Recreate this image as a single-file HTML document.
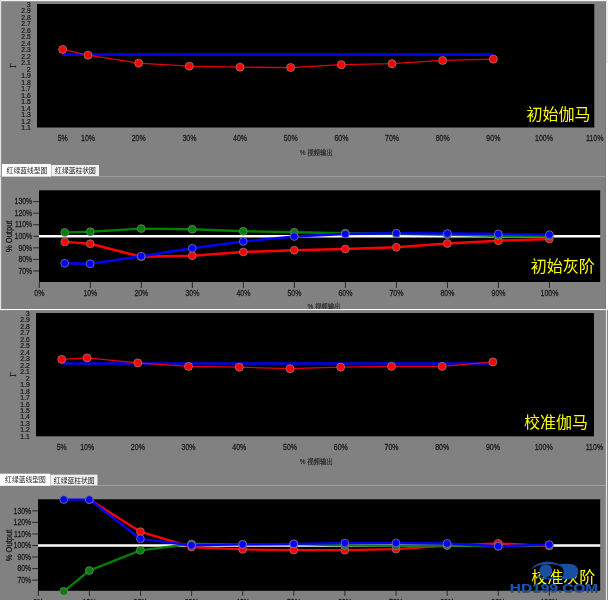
<!DOCTYPE html>
<html lang="zh">
<head>
<meta charset="utf-8">
<title>灰阶与伽马校准</title>
<style>
html,body{margin:0;padding:0;background:#818181;}
body{width:608px;height:600px;overflow:hidden;}
svg{display:block;font-family:"Liberation Sans", "Noto Sans CJK SC", sans-serif;}
</style>
</head>
<body>
<svg width="608" height="600" viewBox="0 0 608 600">
<defs><filter id="soft" filterUnits="userSpaceOnUse" x="-12" y="-12" width="632" height="624" color-interpolation-filters="sRGB"><feGaussianBlur stdDeviation="0.4"/></filter></defs>
<g filter="url(#soft)">
<rect x="-12" y="-12" width="632" height="624" fill="#818181"/>
<rect x="-12" y="-12" width="632" height="12" fill="#f4f4f4"/>
<rect x="-12" y="0" width="12" height="309" fill="#e0e0e0"/>
<rect x="-12" y="309" width="12" height="1.3" fill="#ffffff"/>
<rect x="608" y="-12" width="12" height="73.7" fill="#eeeeee"/>
<rect x="608" y="61.7" width="12" height="248.6" fill="#ffffff"/>
<rect x="608" y="310.3" width="12" height="301.7" fill="#8c8c8c"/>
<rect x="0" y="0" width="608" height="1.2" fill="#f4f4f4"/>
<rect x="0" y="0" width="1.2" height="309" fill="#e0e0e0"/>
<rect x="606" y="0" width="2" height="61.7" fill="#eeeeee"/>
<rect x="606" y="61.7" width="2" height="248" fill="#ffffff"/>
<rect x="605.1" y="1.2" width="0.9" height="307.8" fill="#797979"/>
<rect x="37" y="4" width="557.3" height="123.5" fill="#000"/>
<text transform="translate(30.80 6.90) scale(0.896 1)" font-size="7.9" text-anchor="end" fill="#1c1c1c" stroke="#1c1c1c" stroke-width="0.24" >3</text>
<text transform="translate(30.80 13.38) scale(0.861 1)" font-size="7.9" text-anchor="end" fill="#1c1c1c" stroke="#1c1c1c" stroke-width="0.24" >2.9</text>
<text transform="translate(30.80 19.87) scale(0.861 1)" font-size="7.9" text-anchor="end" fill="#1c1c1c" stroke="#1c1c1c" stroke-width="0.24" >2.8</text>
<text transform="translate(30.80 26.35) scale(0.861 1)" font-size="7.9" text-anchor="end" fill="#1c1c1c" stroke="#1c1c1c" stroke-width="0.24" >2.7</text>
<text transform="translate(30.80 32.84) scale(0.861 1)" font-size="7.9" text-anchor="end" fill="#1c1c1c" stroke="#1c1c1c" stroke-width="0.24" >2.6</text>
<text transform="translate(30.80 39.32) scale(0.861 1)" font-size="7.9" text-anchor="end" fill="#1c1c1c" stroke="#1c1c1c" stroke-width="0.24" >2.5</text>
<text transform="translate(30.80 45.81) scale(0.861 1)" font-size="7.9" text-anchor="end" fill="#1c1c1c" stroke="#1c1c1c" stroke-width="0.24" >2.4</text>
<text transform="translate(30.80 52.29) scale(0.861 1)" font-size="7.9" text-anchor="end" fill="#1c1c1c" stroke="#1c1c1c" stroke-width="0.24" >2.3</text>
<text transform="translate(30.80 58.77) scale(0.861 1)" font-size="7.9" text-anchor="end" fill="#1c1c1c" stroke="#1c1c1c" stroke-width="0.24" >2.2</text>
<text transform="translate(30.80 65.26) scale(0.861 1)" font-size="7.9" text-anchor="end" fill="#1c1c1c" stroke="#1c1c1c" stroke-width="0.24" >2.1</text>
<text transform="translate(30.80 71.74) scale(0.896 1)" font-size="7.9" text-anchor="end" fill="#1c1c1c" stroke="#1c1c1c" stroke-width="0.24" >2</text>
<text transform="translate(30.80 78.23) scale(0.861 1)" font-size="7.9" text-anchor="end" fill="#1c1c1c" stroke="#1c1c1c" stroke-width="0.24" >1.9</text>
<text transform="translate(30.80 84.71) scale(0.861 1)" font-size="7.9" text-anchor="end" fill="#1c1c1c" stroke="#1c1c1c" stroke-width="0.24" >1.8</text>
<text transform="translate(30.80 91.19) scale(0.861 1)" font-size="7.9" text-anchor="end" fill="#1c1c1c" stroke="#1c1c1c" stroke-width="0.24" >1.7</text>
<text transform="translate(30.80 97.68) scale(0.861 1)" font-size="7.9" text-anchor="end" fill="#1c1c1c" stroke="#1c1c1c" stroke-width="0.24" >1.6</text>
<text transform="translate(30.80 104.16) scale(0.861 1)" font-size="7.9" text-anchor="end" fill="#1c1c1c" stroke="#1c1c1c" stroke-width="0.24" >1.5</text>
<text transform="translate(30.80 110.65) scale(0.861 1)" font-size="7.9" text-anchor="end" fill="#1c1c1c" stroke="#1c1c1c" stroke-width="0.24" >1.4</text>
<text transform="translate(30.80 117.13) scale(0.861 1)" font-size="7.9" text-anchor="end" fill="#1c1c1c" stroke="#1c1c1c" stroke-width="0.24" >1.3</text>
<text transform="translate(30.80 123.62) scale(0.861 1)" font-size="7.9" text-anchor="end" fill="#1c1c1c" stroke="#1c1c1c" stroke-width="0.24" >1.2</text>
<text transform="translate(30.80 130.10) scale(0.861 1)" font-size="7.9" text-anchor="end" fill="#1c1c1c" stroke="#1c1c1c" stroke-width="0.24" >1.1</text>
<text transform="translate(62.73 140.80) scale(0.799 1)" font-size="8.7" text-anchor="middle" fill="#1c1c1c" stroke="#1c1c1c" stroke-width="0.28" >5%</text>
<text transform="translate(88.06 140.80) scale(0.806 1)" font-size="8.7" text-anchor="middle" fill="#1c1c1c" stroke="#1c1c1c" stroke-width="0.28" >10%</text>
<text transform="translate(138.73 140.80) scale(0.806 1)" font-size="8.7" text-anchor="middle" fill="#1c1c1c" stroke="#1c1c1c" stroke-width="0.28" >20%</text>
<text transform="translate(189.39 140.80) scale(0.806 1)" font-size="8.7" text-anchor="middle" fill="#1c1c1c" stroke="#1c1c1c" stroke-width="0.28" >30%</text>
<text transform="translate(240.05 140.80) scale(0.806 1)" font-size="8.7" text-anchor="middle" fill="#1c1c1c" stroke="#1c1c1c" stroke-width="0.28" >40%</text>
<text transform="translate(290.72 140.80) scale(0.806 1)" font-size="8.7" text-anchor="middle" fill="#1c1c1c" stroke="#1c1c1c" stroke-width="0.28" >50%</text>
<text transform="translate(341.38 140.80) scale(0.806 1)" font-size="8.7" text-anchor="middle" fill="#1c1c1c" stroke="#1c1c1c" stroke-width="0.28" >60%</text>
<text transform="translate(392.05 140.80) scale(0.806 1)" font-size="8.7" text-anchor="middle" fill="#1c1c1c" stroke="#1c1c1c" stroke-width="0.28" >70%</text>
<text transform="translate(442.71 140.80) scale(0.806 1)" font-size="8.7" text-anchor="middle" fill="#1c1c1c" stroke="#1c1c1c" stroke-width="0.28" >80%</text>
<text transform="translate(493.37 140.80) scale(0.806 1)" font-size="8.7" text-anchor="middle" fill="#1c1c1c" stroke="#1c1c1c" stroke-width="0.28" >90%</text>
<text transform="translate(544.04 140.80) scale(0.810 1)" font-size="8.7" text-anchor="middle" fill="#1c1c1c" stroke="#1c1c1c" stroke-width="0.28" >100%</text>
<text transform="translate(594.70 140.80) scale(0.810 1)" font-size="8.7" text-anchor="middle" fill="#1c1c1c" stroke="#1c1c1c" stroke-width="0.28" >110%</text>
<text x="316.20" y="154.80" font-size="6.4" text-anchor="middle" fill="#222222" stroke="#222222" stroke-width="0.12" >% 视频输出</text>
<text transform="translate(15.6,65.5) rotate(-90)" font-size="7.5" font-family="Liberation Serif, serif" text-anchor="middle" fill="#1c1c1c" stroke="#1c1c1c" stroke-width="0.2">Γ</text>
<line x1="62.33" y1="54.6" x2="492.97" y2="54.6" stroke="#0000f0" stroke-width="2.6"/>
<polyline points="62.68,49.45 88.01,55.15 138.68,63.15 189.34,66.15 240.00,67.15 290.67,67.55 341.33,64.65 392.00,63.65 442.66,60.45 493.32,59.15" fill="none" stroke="#e80000" stroke-width="1.3" stroke-linejoin="round" stroke-linecap="round"/>
<circle cx="62.68" cy="49.45" r="4.0" fill="#ff0000" stroke="#8a8080" stroke-width="0.8"/><circle cx="88.01" cy="55.15" r="4.0" fill="#ff0000" stroke="#8a8080" stroke-width="0.8"/><circle cx="138.68" cy="63.15" r="4.0" fill="#ff0000" stroke="#8a8080" stroke-width="0.8"/><circle cx="189.34" cy="66.15" r="4.0" fill="#ff0000" stroke="#8a8080" stroke-width="0.8"/><circle cx="240.00" cy="67.15" r="4.0" fill="#ff0000" stroke="#8a8080" stroke-width="0.8"/><circle cx="290.67" cy="67.55" r="4.0" fill="#ff0000" stroke="#8a8080" stroke-width="0.8"/><circle cx="341.33" cy="64.65" r="4.0" fill="#ff0000" stroke="#8a8080" stroke-width="0.8"/><circle cx="392.00" cy="63.65" r="4.0" fill="#ff0000" stroke="#8a8080" stroke-width="0.8"/><circle cx="442.66" cy="60.45" r="4.0" fill="#ff0000" stroke="#8a8080" stroke-width="0.8"/><circle cx="493.32" cy="59.15" r="4.0" fill="#ff0000" stroke="#8a8080" stroke-width="0.8"/>
<text x="526.6" y="120.2" font-size="16" fill="#ffff00" text-anchor="start">初始伽马</text>
<rect x="-12" y="176.2" width="617" height="0.85" fill="#a4a4a4"/>
<rect x="2" y="164" width="49" height="12.5" fill="#ffffff"/>
<rect x="51" y="165" width="48" height="11" fill="#f0f0f0"/>
<rect x="51" y="165" width="0.8" height="11" fill="#c0c0c0"/>
<text x="27.00" y="172.70" font-size="6.8" text-anchor="middle" fill="#1c1c1c" stroke="#1c1c1c" stroke-width="0" >红绿蓝线型图</text>
<text x="75.50" y="173.00" font-size="6.8" text-anchor="middle" fill="#1c1c1c" stroke="#1c1c1c" stroke-width="0" >红绿蓝柱状图</text>
<rect x="39" y="190.3" width="561.2" height="91.69999999999999" fill="#000"/>
<line x1="33.2" y1="201.65" x2="39" y2="201.65" stroke="#262626" stroke-width="1"/>
<text transform="translate(32.20 204.35) scale(0.794 1)" font-size="8.7" text-anchor="end" fill="#1c1c1c" stroke="#1c1c1c" stroke-width="0.28" >130%</text>
<line x1="33.2" y1="213.20" x2="39" y2="213.20" stroke="#262626" stroke-width="1"/>
<text transform="translate(32.20 215.90) scale(0.794 1)" font-size="8.7" text-anchor="end" fill="#1c1c1c" stroke="#1c1c1c" stroke-width="0.28" >120%</text>
<line x1="33.2" y1="224.75" x2="39" y2="224.75" stroke="#262626" stroke-width="1"/>
<text transform="translate(32.20 227.45) scale(0.794 1)" font-size="8.7" text-anchor="end" fill="#1c1c1c" stroke="#1c1c1c" stroke-width="0.28" >110%</text>
<line x1="33.2" y1="236.30" x2="39" y2="236.30" stroke="#262626" stroke-width="1"/>
<text transform="translate(32.20 239.00) scale(0.794 1)" font-size="8.7" text-anchor="end" fill="#1c1c1c" stroke="#1c1c1c" stroke-width="0.28" >100%</text>
<line x1="33.2" y1="247.85" x2="39" y2="247.85" stroke="#262626" stroke-width="1"/>
<text transform="translate(32.20 250.55) scale(0.790 1)" font-size="8.7" text-anchor="end" fill="#1c1c1c" stroke="#1c1c1c" stroke-width="0.28" >90%</text>
<line x1="33.2" y1="259.40" x2="39" y2="259.40" stroke="#262626" stroke-width="1"/>
<text transform="translate(32.20 262.10) scale(0.790 1)" font-size="8.7" text-anchor="end" fill="#1c1c1c" stroke="#1c1c1c" stroke-width="0.28" >80%</text>
<line x1="33.2" y1="270.95" x2="39" y2="270.95" stroke="#262626" stroke-width="1"/>
<text transform="translate(32.20 273.65) scale(0.790 1)" font-size="8.7" text-anchor="end" fill="#1c1c1c" stroke="#1c1c1c" stroke-width="0.28" >70%</text>
<text transform="translate(12.4,236.3) rotate(-90)" font-size="8.2" text-anchor="middle" fill="#1c1c1c" stroke="#1c1c1c" stroke-width="0.25" textLength="31.5" lengthAdjust="spacingAndGlyphs">% Output</text>
<line x1="39.30" y1="282" x2="39.30" y2="288" stroke="#262626" stroke-width="1"/>
<text transform="translate(39.30 296.10) scale(0.793 1)" font-size="8.7" text-anchor="middle" fill="#1c1c1c" stroke="#1c1c1c" stroke-width="0.28" >0%</text>
<line x1="90.32" y1="282" x2="90.32" y2="288" stroke="#262626" stroke-width="1"/>
<text transform="translate(90.32 296.10) scale(0.800 1)" font-size="8.7" text-anchor="middle" fill="#1c1c1c" stroke="#1c1c1c" stroke-width="0.28" >10%</text>
<line x1="141.34" y1="282" x2="141.34" y2="288" stroke="#262626" stroke-width="1"/>
<text transform="translate(141.34 296.10) scale(0.800 1)" font-size="8.7" text-anchor="middle" fill="#1c1c1c" stroke="#1c1c1c" stroke-width="0.28" >20%</text>
<line x1="192.35" y1="282" x2="192.35" y2="288" stroke="#262626" stroke-width="1"/>
<text transform="translate(192.35 296.10) scale(0.800 1)" font-size="8.7" text-anchor="middle" fill="#1c1c1c" stroke="#1c1c1c" stroke-width="0.28" >30%</text>
<line x1="243.37" y1="282" x2="243.37" y2="288" stroke="#262626" stroke-width="1"/>
<text transform="translate(243.37 296.10) scale(0.800 1)" font-size="8.7" text-anchor="middle" fill="#1c1c1c" stroke="#1c1c1c" stroke-width="0.28" >40%</text>
<line x1="294.39" y1="282" x2="294.39" y2="288" stroke="#262626" stroke-width="1"/>
<text transform="translate(294.39 296.10) scale(0.800 1)" font-size="8.7" text-anchor="middle" fill="#1c1c1c" stroke="#1c1c1c" stroke-width="0.28" >50%</text>
<line x1="345.41" y1="282" x2="345.41" y2="288" stroke="#262626" stroke-width="1"/>
<text transform="translate(345.41 296.10) scale(0.800 1)" font-size="8.7" text-anchor="middle" fill="#1c1c1c" stroke="#1c1c1c" stroke-width="0.28" >60%</text>
<line x1="396.43" y1="282" x2="396.43" y2="288" stroke="#262626" stroke-width="1"/>
<text transform="translate(396.43 296.10) scale(0.800 1)" font-size="8.7" text-anchor="middle" fill="#1c1c1c" stroke="#1c1c1c" stroke-width="0.28" >70%</text>
<line x1="447.45" y1="282" x2="447.45" y2="288" stroke="#262626" stroke-width="1"/>
<text transform="translate(447.45 296.10) scale(0.800 1)" font-size="8.7" text-anchor="middle" fill="#1c1c1c" stroke="#1c1c1c" stroke-width="0.28" >80%</text>
<line x1="498.46" y1="282" x2="498.46" y2="288" stroke="#262626" stroke-width="1"/>
<text transform="translate(498.46 296.10) scale(0.800 1)" font-size="8.7" text-anchor="middle" fill="#1c1c1c" stroke="#1c1c1c" stroke-width="0.28" >90%</text>
<line x1="549.48" y1="282" x2="549.48" y2="288" stroke="#262626" stroke-width="1"/>
<text transform="translate(549.48 296.10) scale(0.805 1)" font-size="8.7" text-anchor="middle" fill="#1c1c1c" stroke="#1c1c1c" stroke-width="0.28" >100%</text>
<text x="324.00" y="309.00" font-size="6.4" text-anchor="middle" fill="#222222" stroke="#222222" stroke-width="0.12" >% 视频输出</text>
<line x1="39" y1="236.3" x2="600.2" y2="236.3" stroke="#fff" stroke-width="2.5"/>
<polyline points="64.71,241.95 90.22,243.75 141.24,256.75 192.25,255.75 243.27,252.00 294.29,250.25 345.31,249.00 396.33,247.25 447.35,243.50 498.36,240.75 549.38,239.00" fill="none" stroke="#ff0000" stroke-width="2.35" stroke-linejoin="round" stroke-linecap="round"/>
<polyline points="64.71,232.45 90.22,231.75 141.24,228.55 192.25,229.25 243.27,231.25 294.29,232.25 345.31,233.25 396.33,233.75 447.35,234.75 498.36,235.75 549.38,236.25" fill="none" stroke="#008000" stroke-width="2.35" stroke-linejoin="round" stroke-linecap="round"/>
<polyline points="64.71,263.25 90.22,263.75 141.24,256.25 192.25,248.25 243.27,241.50 294.29,236.50 345.31,234.00 396.33,233.25 447.35,233.50 498.36,234.00 549.38,234.75" fill="none" stroke="#0000ff" stroke-width="2.35" stroke-linejoin="round" stroke-linecap="round"/>
<circle cx="64.71" cy="241.95" r="3.9" fill="#ff0000" stroke="#807a80" stroke-width="0.8"/><circle cx="90.22" cy="243.75" r="3.9" fill="#ff0000" stroke="#807a80" stroke-width="0.8"/><circle cx="141.24" cy="256.75" r="3.9" fill="#ff0000" stroke="#807a80" stroke-width="0.8"/><circle cx="192.25" cy="255.75" r="3.9" fill="#ff0000" stroke="#807a80" stroke-width="0.8"/><circle cx="243.27" cy="252.00" r="3.9" fill="#ff0000" stroke="#807a80" stroke-width="0.8"/><circle cx="294.29" cy="250.25" r="3.9" fill="#ff0000" stroke="#807a80" stroke-width="0.8"/><circle cx="345.31" cy="249.00" r="3.9" fill="#ff0000" stroke="#807a80" stroke-width="0.8"/><circle cx="396.33" cy="247.25" r="3.9" fill="#ff0000" stroke="#807a80" stroke-width="0.8"/><circle cx="447.35" cy="243.50" r="3.9" fill="#ff0000" stroke="#807a80" stroke-width="0.8"/><circle cx="498.36" cy="240.75" r="3.9" fill="#ff0000" stroke="#807a80" stroke-width="0.8"/><circle cx="549.38" cy="239.00" r="3.9" fill="#ff0000" stroke="#807a80" stroke-width="0.8"/>
<circle cx="64.71" cy="232.45" r="3.9" fill="#008000" stroke="#807a80" stroke-width="0.8"/><circle cx="90.22" cy="231.75" r="3.9" fill="#008000" stroke="#807a80" stroke-width="0.8"/><circle cx="141.24" cy="228.55" r="3.9" fill="#008000" stroke="#807a80" stroke-width="0.8"/><circle cx="192.25" cy="229.25" r="3.9" fill="#008000" stroke="#807a80" stroke-width="0.8"/><circle cx="243.27" cy="231.25" r="3.9" fill="#008000" stroke="#807a80" stroke-width="0.8"/><circle cx="294.29" cy="232.25" r="3.9" fill="#008000" stroke="#807a80" stroke-width="0.8"/><circle cx="345.31" cy="233.25" r="3.9" fill="#008000" stroke="#807a80" stroke-width="0.8"/><circle cx="396.33" cy="233.75" r="3.9" fill="#008000" stroke="#807a80" stroke-width="0.8"/><circle cx="447.35" cy="234.75" r="3.9" fill="#008000" stroke="#807a80" stroke-width="0.8"/><circle cx="498.36" cy="235.75" r="3.9" fill="#008000" stroke="#807a80" stroke-width="0.8"/><circle cx="549.38" cy="236.25" r="3.9" fill="#008000" stroke="#807a80" stroke-width="0.8"/>
<circle cx="64.71" cy="263.25" r="3.9" fill="#0000ff" stroke="#807a80" stroke-width="0.8"/><circle cx="90.22" cy="263.75" r="3.9" fill="#0000ff" stroke="#807a80" stroke-width="0.8"/><circle cx="141.24" cy="256.25" r="3.9" fill="#0000ff" stroke="#807a80" stroke-width="0.8"/><circle cx="192.25" cy="248.25" r="3.9" fill="#0000ff" stroke="#807a80" stroke-width="0.8"/><circle cx="243.27" cy="241.50" r="3.9" fill="#0000ff" stroke="#807a80" stroke-width="0.8"/><circle cx="294.29" cy="236.50" r="3.9" fill="#0000ff" stroke="#807a80" stroke-width="0.8"/><circle cx="345.31" cy="234.00" r="3.9" fill="#0000ff" stroke="#807a80" stroke-width="0.8"/><circle cx="396.33" cy="233.25" r="3.9" fill="#0000ff" stroke="#807a80" stroke-width="0.8"/><circle cx="447.35" cy="233.50" r="3.9" fill="#0000ff" stroke="#807a80" stroke-width="0.8"/><circle cx="498.36" cy="234.00" r="3.9" fill="#0000ff" stroke="#807a80" stroke-width="0.8"/><circle cx="549.38" cy="234.75" r="3.9" fill="#0000ff" stroke="#807a80" stroke-width="0.8"/>
<text x="530.8" y="271.9" font-size="16" fill="#ffff00" text-anchor="start">初始灰阶</text>
<rect x="0" y="307.5" width="606" height="1.5" fill="#818181" opacity="0.0"/>
<rect x="0" y="309" width="608" height="1.3" fill="#ffffff"/>
<rect x="0" y="310.3" width="608" height="2.7" fill="#818181"/>
<rect x="605.3" y="310" width="0.6" height="290" fill="#6c6c6c"/>
<rect x="605.8" y="309.5" width="1.1" height="290.5" fill="#ffffff"/>
<rect x="606.9" y="310.3" width="1.1" height="289.7" fill="#8c8c8c"/>
<rect x="36" y="313" width="558" height="123.30000000000001" fill="#000"/>
<text transform="translate(29.80 315.90) scale(0.896 1)" font-size="7.9" text-anchor="end" fill="#1c1c1c" stroke="#1c1c1c" stroke-width="0.24" >3</text>
<text transform="translate(29.80 322.37) scale(0.861 1)" font-size="7.9" text-anchor="end" fill="#1c1c1c" stroke="#1c1c1c" stroke-width="0.24" >2.9</text>
<text transform="translate(29.80 328.85) scale(0.861 1)" font-size="7.9" text-anchor="end" fill="#1c1c1c" stroke="#1c1c1c" stroke-width="0.24" >2.8</text>
<text transform="translate(29.80 335.32) scale(0.861 1)" font-size="7.9" text-anchor="end" fill="#1c1c1c" stroke="#1c1c1c" stroke-width="0.24" >2.7</text>
<text transform="translate(29.80 341.79) scale(0.861 1)" font-size="7.9" text-anchor="end" fill="#1c1c1c" stroke="#1c1c1c" stroke-width="0.24" >2.6</text>
<text transform="translate(29.80 348.27) scale(0.861 1)" font-size="7.9" text-anchor="end" fill="#1c1c1c" stroke="#1c1c1c" stroke-width="0.24" >2.5</text>
<text transform="translate(29.80 354.74) scale(0.861 1)" font-size="7.9" text-anchor="end" fill="#1c1c1c" stroke="#1c1c1c" stroke-width="0.24" >2.4</text>
<text transform="translate(29.80 361.22) scale(0.861 1)" font-size="7.9" text-anchor="end" fill="#1c1c1c" stroke="#1c1c1c" stroke-width="0.24" >2.3</text>
<text transform="translate(29.80 367.69) scale(0.861 1)" font-size="7.9" text-anchor="end" fill="#1c1c1c" stroke="#1c1c1c" stroke-width="0.24" >2.2</text>
<text transform="translate(29.80 374.16) scale(0.861 1)" font-size="7.9" text-anchor="end" fill="#1c1c1c" stroke="#1c1c1c" stroke-width="0.24" >2.1</text>
<text transform="translate(29.80 380.64) scale(0.896 1)" font-size="7.9" text-anchor="end" fill="#1c1c1c" stroke="#1c1c1c" stroke-width="0.24" >2</text>
<text transform="translate(29.80 387.11) scale(0.861 1)" font-size="7.9" text-anchor="end" fill="#1c1c1c" stroke="#1c1c1c" stroke-width="0.24" >1.9</text>
<text transform="translate(29.80 393.58) scale(0.861 1)" font-size="7.9" text-anchor="end" fill="#1c1c1c" stroke="#1c1c1c" stroke-width="0.24" >1.8</text>
<text transform="translate(29.80 400.06) scale(0.861 1)" font-size="7.9" text-anchor="end" fill="#1c1c1c" stroke="#1c1c1c" stroke-width="0.24" >1.7</text>
<text transform="translate(29.80 406.53) scale(0.861 1)" font-size="7.9" text-anchor="end" fill="#1c1c1c" stroke="#1c1c1c" stroke-width="0.24" >1.6</text>
<text transform="translate(29.80 413.01) scale(0.861 1)" font-size="7.9" text-anchor="end" fill="#1c1c1c" stroke="#1c1c1c" stroke-width="0.24" >1.5</text>
<text transform="translate(29.80 419.48) scale(0.861 1)" font-size="7.9" text-anchor="end" fill="#1c1c1c" stroke="#1c1c1c" stroke-width="0.24" >1.4</text>
<text transform="translate(29.80 425.95) scale(0.861 1)" font-size="7.9" text-anchor="end" fill="#1c1c1c" stroke="#1c1c1c" stroke-width="0.24" >1.3</text>
<text transform="translate(29.80 432.43) scale(0.861 1)" font-size="7.9" text-anchor="end" fill="#1c1c1c" stroke="#1c1c1c" stroke-width="0.24" >1.2</text>
<text transform="translate(29.80 438.90) scale(0.861 1)" font-size="7.9" text-anchor="end" fill="#1c1c1c" stroke="#1c1c1c" stroke-width="0.24" >1.1</text>
<text transform="translate(61.76 449.60) scale(0.799 1)" font-size="8.7" text-anchor="middle" fill="#1c1c1c" stroke="#1c1c1c" stroke-width="0.28" >5%</text>
<text transform="translate(87.13 449.60) scale(0.806 1)" font-size="8.7" text-anchor="middle" fill="#1c1c1c" stroke="#1c1c1c" stroke-width="0.28" >10%</text>
<text transform="translate(137.85 449.60) scale(0.806 1)" font-size="8.7" text-anchor="middle" fill="#1c1c1c" stroke="#1c1c1c" stroke-width="0.28" >20%</text>
<text transform="translate(188.58 449.60) scale(0.806 1)" font-size="8.7" text-anchor="middle" fill="#1c1c1c" stroke="#1c1c1c" stroke-width="0.28" >30%</text>
<text transform="translate(239.31 449.60) scale(0.806 1)" font-size="8.7" text-anchor="middle" fill="#1c1c1c" stroke="#1c1c1c" stroke-width="0.28" >40%</text>
<text transform="translate(290.04 449.60) scale(0.806 1)" font-size="8.7" text-anchor="middle" fill="#1c1c1c" stroke="#1c1c1c" stroke-width="0.28" >50%</text>
<text transform="translate(340.76 449.60) scale(0.806 1)" font-size="8.7" text-anchor="middle" fill="#1c1c1c" stroke="#1c1c1c" stroke-width="0.28" >60%</text>
<text transform="translate(391.49 449.60) scale(0.806 1)" font-size="8.7" text-anchor="middle" fill="#1c1c1c" stroke="#1c1c1c" stroke-width="0.28" >70%</text>
<text transform="translate(442.22 449.60) scale(0.806 1)" font-size="8.7" text-anchor="middle" fill="#1c1c1c" stroke="#1c1c1c" stroke-width="0.28" >80%</text>
<text transform="translate(492.95 449.60) scale(0.806 1)" font-size="8.7" text-anchor="middle" fill="#1c1c1c" stroke="#1c1c1c" stroke-width="0.28" >90%</text>
<text transform="translate(543.67 449.60) scale(0.810 1)" font-size="8.7" text-anchor="middle" fill="#1c1c1c" stroke="#1c1c1c" stroke-width="0.28" >100%</text>
<text transform="translate(594.40 449.60) scale(0.810 1)" font-size="8.7" text-anchor="middle" fill="#1c1c1c" stroke="#1c1c1c" stroke-width="0.28" >110%</text>
<text x="316.20" y="463.80" font-size="6.4" text-anchor="middle" fill="#222222" stroke="#222222" stroke-width="0.12" >% 视频输出</text>
<text transform="translate(15.6,374.5) rotate(-90)" font-size="7.5" font-family="Liberation Serif, serif" text-anchor="middle" fill="#1c1c1c" stroke="#1c1c1c" stroke-width="0.2">Γ</text>
<line x1="61.36" y1="363.5" x2="492.55" y2="363.5" stroke="#0000f0" stroke-width="2.6"/>
<polyline points="61.71,359.40 87.08,357.90 137.80,362.90 188.53,366.40 239.26,367.15 289.99,368.65 340.71,367.15 391.44,366.40 442.17,366.40 492.90,361.90" fill="none" stroke="#e80000" stroke-width="1.3" stroke-linejoin="round" stroke-linecap="round"/>
<circle cx="61.71" cy="359.40" r="4.0" fill="#ff0000" stroke="#8a8080" stroke-width="0.8"/><circle cx="87.08" cy="357.90" r="4.0" fill="#ff0000" stroke="#8a8080" stroke-width="0.8"/><circle cx="137.80" cy="362.90" r="4.0" fill="#ff0000" stroke="#8a8080" stroke-width="0.8"/><circle cx="188.53" cy="366.40" r="4.0" fill="#ff0000" stroke="#8a8080" stroke-width="0.8"/><circle cx="239.26" cy="367.15" r="4.0" fill="#ff0000" stroke="#8a8080" stroke-width="0.8"/><circle cx="289.99" cy="368.65" r="4.0" fill="#ff0000" stroke="#8a8080" stroke-width="0.8"/><circle cx="340.71" cy="367.15" r="4.0" fill="#ff0000" stroke="#8a8080" stroke-width="0.8"/><circle cx="391.44" cy="366.40" r="4.0" fill="#ff0000" stroke="#8a8080" stroke-width="0.8"/><circle cx="442.17" cy="366.40" r="4.0" fill="#ff0000" stroke="#8a8080" stroke-width="0.8"/><circle cx="492.90" cy="361.90" r="4.0" fill="#ff0000" stroke="#8a8080" stroke-width="0.8"/>
<text x="524.1" y="427.7" font-size="16" fill="#ffff00" text-anchor="start">校准伽马</text>
<rect x="-12" y="485.1" width="617" height="0.85" fill="#a4a4a4"/>
<rect x="-12" y="473.7" width="62" height="12.100000000000023" fill="#ffffff"/>
<rect x="50" y="474.7" width="47.5" height="10.600000000000023" fill="#f0f0f0"/>
<rect x="50" y="474.7" width="0.8" height="10.600000000000023" fill="#c0c0c0"/>
<text x="25.50" y="482.20" font-size="6.8" text-anchor="middle" fill="#1c1c1c" stroke="#1c1c1c" stroke-width="0" >红绿蓝线型图</text>
<text x="74.25" y="482.50" font-size="6.8" text-anchor="middle" fill="#1c1c1c" stroke="#1c1c1c" stroke-width="0" >红绿蓝柱状图</text>
<rect x="38" y="499.3" width="562.2" height="91.49999999999994" fill="#000"/>
<line x1="32.2" y1="510.85" x2="38" y2="510.85" stroke="#262626" stroke-width="1"/>
<text transform="translate(31.20 513.55) scale(0.794 1)" font-size="8.7" text-anchor="end" fill="#1c1c1c" stroke="#1c1c1c" stroke-width="0.28" >130%</text>
<line x1="32.2" y1="522.40" x2="38" y2="522.40" stroke="#262626" stroke-width="1"/>
<text transform="translate(31.20 525.10) scale(0.794 1)" font-size="8.7" text-anchor="end" fill="#1c1c1c" stroke="#1c1c1c" stroke-width="0.28" >120%</text>
<line x1="32.2" y1="533.95" x2="38" y2="533.95" stroke="#262626" stroke-width="1"/>
<text transform="translate(31.20 536.65) scale(0.794 1)" font-size="8.7" text-anchor="end" fill="#1c1c1c" stroke="#1c1c1c" stroke-width="0.28" >110%</text>
<line x1="32.2" y1="545.50" x2="38" y2="545.50" stroke="#262626" stroke-width="1"/>
<text transform="translate(31.20 548.20) scale(0.794 1)" font-size="8.7" text-anchor="end" fill="#1c1c1c" stroke="#1c1c1c" stroke-width="0.28" >100%</text>
<line x1="32.2" y1="557.05" x2="38" y2="557.05" stroke="#262626" stroke-width="1"/>
<text transform="translate(31.20 559.75) scale(0.790 1)" font-size="8.7" text-anchor="end" fill="#1c1c1c" stroke="#1c1c1c" stroke-width="0.28" >90%</text>
<line x1="32.2" y1="568.60" x2="38" y2="568.60" stroke="#262626" stroke-width="1"/>
<text transform="translate(31.20 571.30) scale(0.790 1)" font-size="8.7" text-anchor="end" fill="#1c1c1c" stroke="#1c1c1c" stroke-width="0.28" >80%</text>
<line x1="32.2" y1="580.15" x2="38" y2="580.15" stroke="#262626" stroke-width="1"/>
<text transform="translate(31.20 582.85) scale(0.790 1)" font-size="8.7" text-anchor="end" fill="#1c1c1c" stroke="#1c1c1c" stroke-width="0.28" >70%</text>
<text transform="translate(12.4,545.5) rotate(-90)" font-size="8.2" text-anchor="middle" fill="#1c1c1c" stroke="#1c1c1c" stroke-width="0.25" textLength="31.5" lengthAdjust="spacingAndGlyphs">% Output</text>
<line x1="38.30" y1="590.8" x2="38.30" y2="595.8" stroke="#262626" stroke-width="1"/>
<text transform="translate(38.30 605.10) scale(0.793 1)" font-size="8.7" text-anchor="middle" fill="#1c1c1c" stroke="#1c1c1c" stroke-width="0.28" >0%</text>
<line x1="89.41" y1="590.8" x2="89.41" y2="595.8" stroke="#262626" stroke-width="1"/>
<text transform="translate(89.41 605.10) scale(0.800 1)" font-size="8.7" text-anchor="middle" fill="#1c1c1c" stroke="#1c1c1c" stroke-width="0.28" >10%</text>
<line x1="140.52" y1="590.8" x2="140.52" y2="595.8" stroke="#262626" stroke-width="1"/>
<text transform="translate(140.52 605.10) scale(0.800 1)" font-size="8.7" text-anchor="middle" fill="#1c1c1c" stroke="#1c1c1c" stroke-width="0.28" >20%</text>
<line x1="191.63" y1="590.8" x2="191.63" y2="595.8" stroke="#262626" stroke-width="1"/>
<text transform="translate(191.63 605.10) scale(0.800 1)" font-size="8.7" text-anchor="middle" fill="#1c1c1c" stroke="#1c1c1c" stroke-width="0.28" >30%</text>
<line x1="242.74" y1="590.8" x2="242.74" y2="595.8" stroke="#262626" stroke-width="1"/>
<text transform="translate(242.74 605.10) scale(0.800 1)" font-size="8.7" text-anchor="middle" fill="#1c1c1c" stroke="#1c1c1c" stroke-width="0.28" >40%</text>
<line x1="293.85" y1="590.8" x2="293.85" y2="595.8" stroke="#262626" stroke-width="1"/>
<text transform="translate(293.85 605.10) scale(0.800 1)" font-size="8.7" text-anchor="middle" fill="#1c1c1c" stroke="#1c1c1c" stroke-width="0.28" >50%</text>
<line x1="344.95" y1="590.8" x2="344.95" y2="595.8" stroke="#262626" stroke-width="1"/>
<text transform="translate(344.95 605.10) scale(0.800 1)" font-size="8.7" text-anchor="middle" fill="#1c1c1c" stroke="#1c1c1c" stroke-width="0.28" >60%</text>
<line x1="396.06" y1="590.8" x2="396.06" y2="595.8" stroke="#262626" stroke-width="1"/>
<text transform="translate(396.06 605.10) scale(0.800 1)" font-size="8.7" text-anchor="middle" fill="#1c1c1c" stroke="#1c1c1c" stroke-width="0.28" >70%</text>
<line x1="447.17" y1="590.8" x2="447.17" y2="595.8" stroke="#262626" stroke-width="1"/>
<text transform="translate(447.17 605.10) scale(0.800 1)" font-size="8.7" text-anchor="middle" fill="#1c1c1c" stroke="#1c1c1c" stroke-width="0.28" >80%</text>
<line x1="498.28" y1="590.8" x2="498.28" y2="595.8" stroke="#262626" stroke-width="1"/>
<text transform="translate(498.28 605.10) scale(0.800 1)" font-size="8.7" text-anchor="middle" fill="#1c1c1c" stroke="#1c1c1c" stroke-width="0.28" >90%</text>
<line x1="549.39" y1="590.8" x2="549.39" y2="595.8" stroke="#262626" stroke-width="1"/>
<text transform="translate(549.39 605.10) scale(0.805 1)" font-size="8.7" text-anchor="middle" fill="#1c1c1c" stroke="#1c1c1c" stroke-width="0.28" >100%</text>
<line x1="38" y1="545.5" x2="600.2" y2="545.5" stroke="#fff" stroke-width="2.5"/>
<polyline points="89.31,499.55 140.42,531.65 191.53,547.05 242.64,549.45 293.75,550.15 344.85,550.15 395.96,549.05 447.07,545.55 498.18,543.35 549.29,546.05" fill="none" stroke="#ff0000" stroke-width="2.35" stroke-linejoin="round" stroke-linecap="round"/>
<polyline points="63.75,591.35 89.31,570.55 140.42,550.35 191.53,543.95 242.64,544.45 293.75,544.05 344.85,545.35 395.96,545.85 447.07,545.35 498.18,546.25 549.29,545.05" fill="none" stroke="#008000" stroke-width="2.35" stroke-linejoin="round" stroke-linecap="round"/>
<polyline points="63.75,499.55 89.31,499.55 140.42,538.85 191.53,545.35 242.64,544.45 293.75,543.85 344.85,543.05 395.96,543.05 447.07,543.45 498.18,546.25 549.29,544.65" fill="none" stroke="#0000ff" stroke-width="2.35" stroke-linejoin="round" stroke-linecap="round"/>
<circle cx="89.31" cy="499.55" r="3.9" fill="#ff0000" stroke="#807a80" stroke-width="0.8"/><circle cx="140.42" cy="531.65" r="3.9" fill="#ff0000" stroke="#807a80" stroke-width="0.8"/><circle cx="191.53" cy="547.05" r="3.9" fill="#ff0000" stroke="#807a80" stroke-width="0.8"/><circle cx="242.64" cy="549.45" r="3.9" fill="#ff0000" stroke="#807a80" stroke-width="0.8"/><circle cx="293.75" cy="550.15" r="3.9" fill="#ff0000" stroke="#807a80" stroke-width="0.8"/><circle cx="344.85" cy="550.15" r="3.9" fill="#ff0000" stroke="#807a80" stroke-width="0.8"/><circle cx="395.96" cy="549.05" r="3.9" fill="#ff0000" stroke="#807a80" stroke-width="0.8"/><circle cx="447.07" cy="545.55" r="3.9" fill="#ff0000" stroke="#807a80" stroke-width="0.8"/><circle cx="498.18" cy="543.35" r="3.9" fill="#ff0000" stroke="#807a80" stroke-width="0.8"/><circle cx="549.29" cy="546.05" r="3.9" fill="#ff0000" stroke="#807a80" stroke-width="0.8"/>
<circle cx="63.75" cy="591.35" r="3.9" fill="#008000" stroke="#807a80" stroke-width="0.8"/><circle cx="89.31" cy="570.55" r="3.9" fill="#008000" stroke="#807a80" stroke-width="0.8"/><circle cx="140.42" cy="550.35" r="3.9" fill="#008000" stroke="#807a80" stroke-width="0.8"/><circle cx="191.53" cy="543.95" r="3.9" fill="#008000" stroke="#807a80" stroke-width="0.8"/><circle cx="242.64" cy="544.45" r="3.9" fill="#008000" stroke="#807a80" stroke-width="0.8"/><circle cx="293.75" cy="544.05" r="3.9" fill="#008000" stroke="#807a80" stroke-width="0.8"/><circle cx="344.85" cy="545.35" r="3.9" fill="#008000" stroke="#807a80" stroke-width="0.8"/><circle cx="395.96" cy="545.85" r="3.9" fill="#008000" stroke="#807a80" stroke-width="0.8"/><circle cx="447.07" cy="545.35" r="3.9" fill="#008000" stroke="#807a80" stroke-width="0.8"/><circle cx="498.18" cy="546.25" r="3.9" fill="#008000" stroke="#807a80" stroke-width="0.8"/><circle cx="549.29" cy="545.05" r="3.9" fill="#008000" stroke="#807a80" stroke-width="0.8"/>
<circle cx="63.75" cy="499.55" r="3.9" fill="#0000ff" stroke="#807a80" stroke-width="0.8"/><circle cx="89.31" cy="499.55" r="3.9" fill="#0000ff" stroke="#807a80" stroke-width="0.8"/><circle cx="140.42" cy="538.85" r="3.9" fill="#0000ff" stroke="#807a80" stroke-width="0.8"/><circle cx="191.53" cy="545.35" r="3.9" fill="#0000ff" stroke="#807a80" stroke-width="0.8"/><circle cx="242.64" cy="544.45" r="3.9" fill="#0000ff" stroke="#807a80" stroke-width="0.8"/><circle cx="293.75" cy="543.85" r="3.9" fill="#0000ff" stroke="#807a80" stroke-width="0.8"/><circle cx="344.85" cy="543.05" r="3.9" fill="#0000ff" stroke="#807a80" stroke-width="0.8"/><circle cx="395.96" cy="543.05" r="3.9" fill="#0000ff" stroke="#807a80" stroke-width="0.8"/><circle cx="447.07" cy="543.45" r="3.9" fill="#0000ff" stroke="#807a80" stroke-width="0.8"/><circle cx="498.18" cy="546.25" r="3.9" fill="#0000ff" stroke="#807a80" stroke-width="0.8"/><circle cx="549.29" cy="544.65" r="3.9" fill="#0000ff" stroke="#807a80" stroke-width="0.8"/>
<text x="531.3" y="583.0" font-size="16" fill="#ffff00" text-anchor="start">校准灰阶</text>
<g>
<path d="M531.2 569.6 C534.5 563.2 544 561 551.5 561.9 C556.5 562.5 560.5 564.6 562.6 567.6 C559.5 565.4 555.5 564.3 551 564 C543.5 563.5 535.5 565.6 531.2 569.6 Z" fill="#184fa2"/>
<path d="M536.5 575.2 C541 579.6 552 580.6 561.5 576.6 C552.5 579.2 542.5 578.6 536.5 575.2 Z" fill="#184fa2" stroke="#184fa2" stroke-width="0.5"/>
<circle cx="545.8" cy="570.6" r="6.4" fill="#184fa2"/>
<path d="M558.6 564 L570.3 564 C580.8 564 581.2 579 570.3 579 L560.8 579 C564.6 575.2 565.4 568.6 558.6 564 Z" fill="#184fa2"/>
<text x="510.3" y="592.7" font-size="10" font-weight="bold" fill="#0a2458" opacity="0.5" textLength="88.4" lengthAdjust="spacingAndGlyphs">HD199.COM</text>
<text x="509.8" y="592.0" font-size="10" font-weight="bold" fill="#1b55ad" stroke="#1b55ad" stroke-width="0.15" textLength="88.4" lengthAdjust="spacingAndGlyphs">HD199.COM</text>
</g>
</g>
</svg>
</body>
</html>
